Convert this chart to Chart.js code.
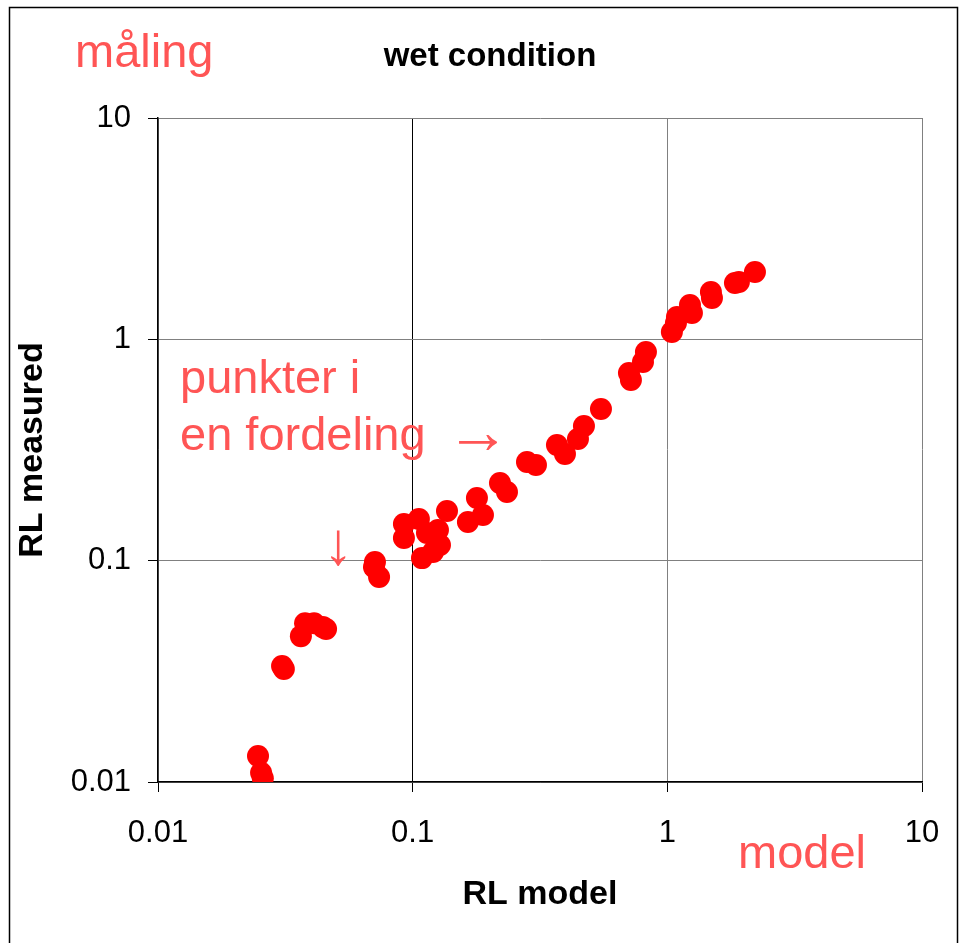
<!DOCTYPE html>
<html>
<head>
    <meta charset="UTF-8">
    <title>wet condition</title>
    <script src="https://cdn.jsdelivr.net/npm/chart.js@4.4.1/dist/chart.umd.min.js"></script>
    <style>
        html, body { margin: 0; padding: 0; background: #fff; }
        #holder { width: 960px; height: 943px; }
    </style>
</head>
<body>
    <div id="holder">
        <canvas id="chart-area" width="960" height="943"></canvas>
    </div>

    <script>
        // RL model (x) and RL measured (y)
        var modelVals = [
            0.0247, 0.0254, 0.0258, 0.0307, 0.0312, 0.0364, 0.0378, 0.0410, 0.0444, 0.0457,
            0.0711, 0.0705, 0.0738, 0.0924, 0.0924, 0.1058, 0.1088, 0.1202, 0.1257, 0.1280,
            0.1138, 0.1364, 0.1648, 0.1788, 0.1888, 0.2202, 0.2346, 0.2811, 0.3049, 0.3686,
            0.3963, 0.4457, 0.4705, 0.5487, 0.7068, 0.7194, 0.8023, 0.8241, 1.042, 1.091,
            1.081, 1.227, 1.249, 1.483, 1.497, 1.843, 1.910, 2.208
        ];
        var measuredVals = [
            0.0131, 0.0110, 0.0104, 0.0334, 0.0324, 0.0456, 0.0522, 0.0522, 0.0501, 0.0491,
            0.0986, 0.0935, 0.0843, 0.1464, 0.1265, 0.1542, 0.1027, 0.1094, 0.1375, 0.1176,
            0.1333, 0.1675, 0.1494, 0.1918, 0.1607, 0.2244, 0.2042, 0.2789, 0.2703, 0.3330,
            0.3031, 0.3543, 0.4056, 0.4842, 0.7043, 0.6549, 0.7897, 0.8761, 1.079, 1.261,
            1.185, 1.429, 1.315, 1.636, 1.537, 1.797, 1.816, 2.014
        ];
        var tickVals = [0.01, 0.1, 1, 10];

        var chartTitle = 'wet condition';
        var xTitle = 'RL model';
        var yTitle = 'RL measured';

        var points = [];
        for (var n = 0; n < modelVals.length; n++) {
            points.push({ x: modelVals[n], y: measuredVals[n] });
        }

        var noteColor = 'rgb(255,85,85)';
        var fontName = '"Liberation Sans", Arial, sans-serif';

        // frame, title and the red notes
        var extras = {
            id: 'extras',
            afterDraw: function (chart) {
                var ctx = chart.ctx;
                ctx.save();
                ctx.strokeStyle = '#000';
                ctx.lineWidth = 1.5;
                ctx.strokeRect(9.5, 7.5, 948, 1000);

                ctx.fillStyle = '#000';
                ctx.font = 'bold 33px ' + fontName;
                ctx.textAlign = 'center';
                ctx.textBaseline = 'middle';
                ctx.fillText(chartTitle, 490, 57);

                ctx.fillStyle = noteColor;
                ctx.font = '47px ' + fontName;
                ctx.textAlign = 'left';
                ctx.textBaseline = 'alphabetic';
                ctx.fillText('måling', 75, 67);
                ctx.fillText('model', 738, 868);
                ctx.fillText('punkter i', 180, 393);
                ctx.fillText('en fordeling', 180, 450);

                ctx.font = '64px ' + fontName;
                ctx.textAlign = 'center';
                ctx.fillText('→', 478, 453);
                ctx.font = '60px ' + fontName;
                ctx.fillText('↓', 338, 564);
                ctx.restore();
            }
        };

        var config = {
            type: 'scatter',
            data: {
                datasets: [{
                    label: 'RL',
                    data: points,
                    backgroundColor: '#ff0000',
                    borderColor: '#ff0000',
                    borderWidth: 0,
                    pointRadius: 11,
                    pointHoverRadius: 11
                }]
            },
            options: {
                responsive: false,
                animation: false,
                layout: { padding: { left: 10, right: 38, top: 118, bottom: 0 } },
                plugins: {
                    legend: { display: false },
                    tooltip: { enabled: false },
                    title: { display: false }
                },
                scales: {
                    x: {
                        type: 'logarithmic',
                        min: 0.01,
                        max: 10,
                        afterBuildTicks: function (scale) {
                            scale.ticks = tickVals.map(function (v) { return { value: v }; });
                        },
                        afterFit: function (scale) {
                            scale.height = 161;
                            scale.paddingLeft = 0;
                            scale.paddingRight = 0;
                        },
                        ticks: {
                            autoSkip: false,
                            maxRotation: 0,
                            padding: 23,
                            color: '#000',
                            font: { family: fontName, size: 31 },
                            callback: function (v) { return String(v); }
                        },
                        grid: {
                            color: function (c) {
                                return c.tick && c.tick.value === 0.1 ? '#000' : '#808080';
                            },
                            tickColor: '#000',
                            tickLength: 10,
                            lineWidth: 1
                        },
                        border: { color: '#000', width: 1.5 },
                        title: {
                            display: true,
                            text: xTitle,
                            color: '#000',
                            font: { family: fontName, size: 34, weight: 'bold', lineHeight: 1.2 },
                            padding: { top: 4, bottom: 28 }
                        }
                    },
                    y: {
                        type: 'logarithmic',
                        min: 0.01,
                        max: 10,
                        afterBuildTicks: function (scale) {
                            scale.ticks = tickVals.map(function (v) { return { value: v }; });
                        },
                        afterFit: function (scale) {
                            scale.width = 148;
                        },
                        ticks: {
                            autoSkip: false,
                            padding: 17,
                            color: '#000',
                            font: { family: fontName, size: 31 },
                            callback: function (v) { return String(v); }
                        },
                        grid: {
                            color: '#808080',
                            tickColor: '#000',
                            tickLength: 10,
                            lineWidth: 1
                        },
                        border: { color: '#000', width: 1.5 },
                        title: {
                            display: true,
                            text: yTitle,
                            color: '#000',
                            font: { family: fontName, size: 34, weight: 'bold', lineHeight: 1.2 },
                            padding: { top: 2, bottom: 4 }
                        }
                    }
                }
            },
            plugins: [extras]
        };

        window.onload = function () {
            var ctx = document.getElementById('chart-area').getContext('2d');
            grafico = new Chart(ctx, config);
        };
    </script>
</body>
</html>
